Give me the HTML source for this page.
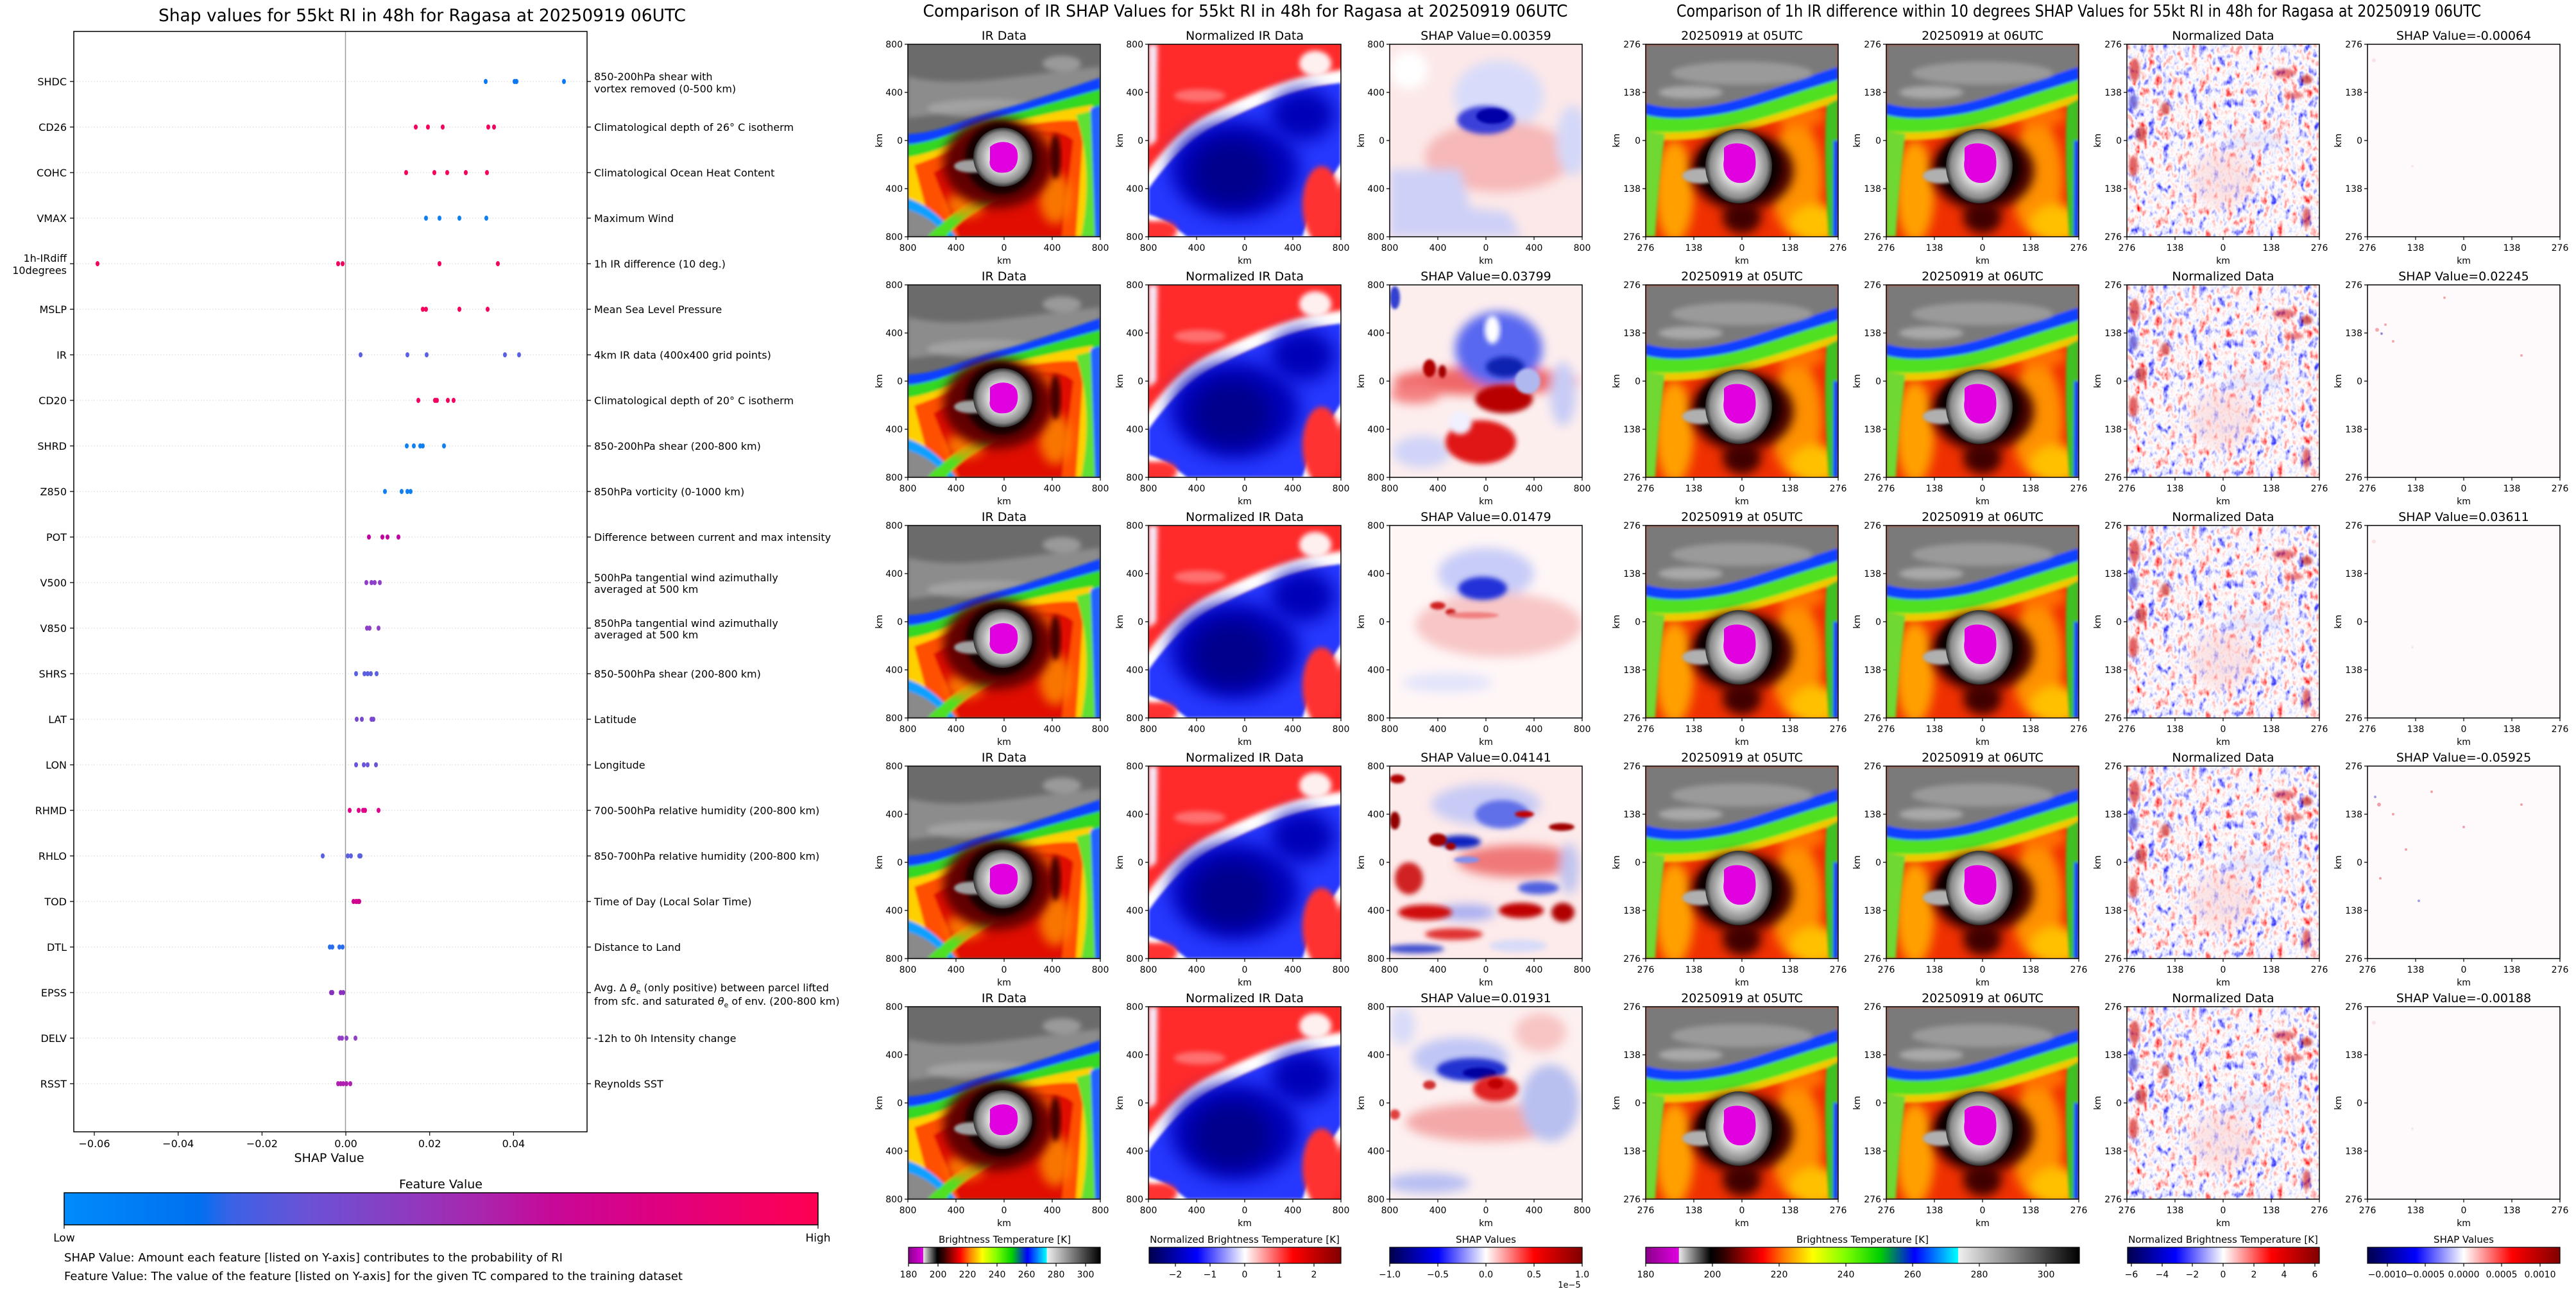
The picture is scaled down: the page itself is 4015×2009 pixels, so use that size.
<!DOCTYPE html>
<html><head><meta charset="utf-8"><style>
html,body{margin:0;padding:0;background:#fff}
svg{display:block}
text{font-family:"DejaVu Sans","Liberation Sans",sans-serif;fill:#000}
.tl{font-size:19px;text-anchor:middle}
.ty{font-size:14px;text-anchor:end}
.tx{font-size:14px;text-anchor:middle}
.yl{font-size:16px;text-anchor:end}
.rl{font-size:16px;text-anchor:start}
.fr{fill:none;stroke:#000;stroke-width:1.5}
.tk{fill:none;stroke:#000;stroke-width:1.2}
.gd{stroke:#d0d0d0;stroke-width:1;stroke-dasharray:1.5,3}
</style></head><body>
<svg width="4015" height="2009" viewBox="0 0 4015 2009" xmlns="http://www.w3.org/2000/svg" xmlns:xlink="http://www.w3.org/1999/xlink">
<defs>
<filter id="b1" x="-20%" y="-20%" width="140%" height="140%"><feGaussianBlur stdDeviation="2"/></filter>
<filter id="b2" x="-20%" y="-20%" width="140%" height="140%"><feGaussianBlur stdDeviation="4"/></filter>
<filter id="b3" x="-30%" y="-30%" width="160%" height="160%"><feGaussianBlur stdDeviation="8"/></filter>
<filter id="b4" x="-40%" y="-40%" width="180%" height="180%"><feGaussianBlur stdDeviation="14"/></filter>
<filter id="nz" x="0" y="0" width="100%" height="100%">
<feTurbulence type="fractalNoise" baseFrequency="0.09 0.06" numOctaves="3" seed="4"/>
<feColorMatrix type="matrix" values="1 0 0 0 0 1 0 0 0 0 1 0 0 0 0 0 0 0 0 1"/>
<feComponentTransfer>
<feFuncR type="table" tableValues="0 0 0.1 0.4 0.8 1 1 1 1 0.9 0.6"/>
<feFuncG type="table" tableValues="0 0 0.1 0.4 0.8 1 0.8 0.4 0.1 0 0"/>
<feFuncB type="table" tableValues="0.5 0.8 1 1 1 1 0.8 0.4 0.1 0 0"/>
<feFuncA type="table" tableValues="1 1"/>
</feComponentTransfer></filter>
<radialGradient id="eg"><stop offset="0" stop-color="#ffffff"/><stop offset="0.5" stop-color="#d8d8d8"/><stop offset="0.85" stop-color="#8a8a8a"/><stop offset="1" stop-color="#303030"/></radialGradient>
<linearGradient id="fv" x1="0" x2="1"><stop offset="0" stop-color="#008bfb"/><stop offset="0.18" stop-color="#0070f0"/><stop offset="0.22" stop-color="#3a62e6"/><stop offset="0.32" stop-color="#6a52d6"/><stop offset="0.45" stop-color="#8c3cc0"/><stop offset="0.55" stop-color="#a826ae"/><stop offset="0.65" stop-color="#c80898"/><stop offset="0.8" stop-color="#e0007e"/><stop offset="1" stop-color="#ff0052"/></linearGradient>
<linearGradient id="bt" x1="0" x2="1"><stop offset="0" stop-color="#8a008a"/><stop offset="0.076" stop-color="#e000e0"/><stop offset="0.077" stop-color="#e8e8e8"/><stop offset="0.15" stop-color="#000"/><stop offset="0.18" stop-color="#300000"/><stop offset="0.27" stop-color="#ff0000"/><stop offset="0.32" stop-color="#ff8000"/><stop offset="0.385" stop-color="#ffff00"/><stop offset="0.46" stop-color="#80ff00"/><stop offset="0.54" stop-color="#00d000"/><stop offset="0.62" stop-color="#0000ff"/><stop offset="0.72" stop-color="#00ffff"/><stop offset="0.721" stop-color="#f0f0f0"/><stop offset="1" stop-color="#000"/></linearGradient>
<linearGradient id="sw" x1="0" x2="1"><stop offset="0" stop-color="#00004c"/><stop offset="0.25" stop-color="#0000ff"/><stop offset="0.5" stop-color="#ffffff"/><stop offset="0.75" stop-color="#ff0000"/><stop offset="1" stop-color="#800000"/></linearGradient>
<path id="tk" class="tk" d="M0,0h-5M0,75h-5M0,150h-5M0,225h-5M0,300h-5M0,300v5M75,300v5M150,300v5M225,300v5M300,300v5"/>

<symbol id="ir" viewBox="0 0 300 300">
<rect width="300" height="300" fill="#6b6b6b"/>
<g filter="url(#b2)"><path d="M0,50 C80,70 150,50 300,35 L300,65 C200,90 120,100 0,115Z" fill="#8c8c8c"/><ellipse cx="120" cy="100" rx="90" ry="14" fill="#b0b0b0" opacity=".6"/><ellipse cx="240" cy="30" rx="30" ry="12" fill="#9a9a9a"/></g>
<g filter="url(#b1)">
<path d="M0,140 C50,138 90,116 140,103 C190,90 240,72 300,52 L300,300 L0,300Z" fill="#1040ff"/>
<path d="M0,156 C50,152 95,126 145,113 C195,100 240,86 300,70 L300,300 L0,300Z" fill="#30d820"/>
<path d="M0,176 C55,168 100,138 150,125 C200,112 245,102 288,95 L280,300 L0,300Z" fill="#ffd000"/>
<path d="M10,188 C70,168 110,143 160,131 C210,120 250,116 275,120 L262,300 L40,300Z" fill="#ff5000"/>
<path d="M40,200 C80,178 120,150 170,140 C215,132 245,135 258,150 L240,300 L80,300Z" fill="#e01000"/>
<path d="M0,255 C25,262 45,280 65,300 L0,300Z" fill="#8a8a8a"/>
<path d="M0,240 C30,250 55,270 75,300 L62,300 C45,280 25,265 0,258Z" fill="#10a0ff"/>
<path d="M30,300 C60,270 90,250 130,230 L140,240 C100,260 75,280 60,300Z" fill="#50e020"/>
<path d="M262,110 L300,100 L300,300 L270,300 C280,250 285,180 262,110Z" fill="#60e030"/>
<path d="M285,100 L300,95 L300,300 L292,300Z" fill="#2060ff"/>
</g>
<g filter="url(#b3)" opacity=".8"><ellipse cx="90" cy="250" rx="30" ry="20" fill="#ff9000"/><ellipse cx="230" cy="240" rx="25" ry="40" fill="#ff9000"/><ellipse cx="200" cy="150" rx="30" ry="15" fill="#ff7000"/></g>
<ellipse cx="140" cy="185" rx="85" ry="70" fill="#600000" filter="url(#b3)"/>
<ellipse cx="230" cy="175" rx="8" ry="35" fill="#400000" filter="url(#b2)"/>
<circle cx="145" cy="178" r="56" fill="#180000" filter="url(#b2)"/>
<ellipse cx="100" cy="190" rx="28" ry="10" fill="#a0a0a0" filter="url(#b1)"/>
<circle cx="148" cy="176" r="46" fill="url(#eg)"/>
<path d="M128,160 C140,148 165,150 170,165 C175,185 165,200 150,200 C135,202 125,192 128,180Z" fill="#e000e0"/>
</symbol>

<symbol id="ir2" viewBox="0 0 300 300">
<rect width="300" height="300" fill="#f03000"/>
<g filter="url(#b3)"><ellipse cx="235" cy="210" rx="40" ry="90" fill="#ff9000"/><ellipse cx="45" cy="230" rx="30" ry="80" fill="#ffa000"/><ellipse cx="265" cy="280" rx="40" ry="30" fill="#ffc000"/><ellipse cx="240" cy="110" rx="40" ry="20" fill="#ff7000"/></g>
<g filter="url(#b1)">
<path d="M0,108 C40,120 90,114 130,104 C180,91 240,70 300,52 L300,80 C240,98 180,120 130,130 C90,138 40,142 0,137Z" fill="#50e020"/>
<path d="M0,135 C40,140 90,136 130,128 C180,118 240,96 300,78 L300,90 C240,108 180,130 130,140 C90,148 40,152 0,148Z" fill="#f0e000" opacity=".85"/>
<path d="M0,135 L30,140 C25,180 20,220 15,300 L0,300Z" fill="#70d830"/>
<path d="M300,85 L300,300 L285,300 C280,220 278,150 282,95Z" fill="#40c020"/>
<path d="M293,150 L300,150 L300,300 L292,300Z" fill="#1040ff"/>
<path d="M0,90 C40,104 90,98 130,88 C180,75 240,52 300,33 L300,55 C240,72 180,95 130,106 C90,114 40,120 0,110Z" fill="#1040ff"/>
<path d="M0,0 H300 V35 C240,54 180,78 130,90 C90,100 40,104 0,92Z" fill="#7a7a7a"/>
</g>
<g filter="url(#b2)"><ellipse cx="150" cy="45" rx="110" ry="18" fill="#a8a8a8" opacity=".7"/><ellipse cx="70" cy="75" rx="50" ry="10" fill="#c8c8c8" opacity=".6"/></g>
<ellipse cx="150" cy="197" rx="80" ry="62" fill="#400000" filter="url(#b3)"/>
<ellipse cx="150" cy="270" rx="30" ry="25" fill="#400000" filter="url(#b3)"/>
<ellipse cx="145" cy="192" rx="64" ry="54" fill="#100000" filter="url(#b2)"/>
<ellipse cx="85" cy="205" rx="28" ry="12" fill="#b0b0b0" filter="url(#b1)"/>
<ellipse cx="145" cy="190" rx="52" ry="58" fill="url(#eg)"/>
<path d="M122,162 C130,150 165,152 170,170 C175,195 168,215 150,216 C130,218 118,200 122,180Z" fill="#e000e0"/>
</symbol>

<symbol id="nir" viewBox="0 0 300 300">
<rect width="300" height="300" fill="#ff2a2a"/>
<g filter="url(#b2)"><path d="M0,0 L14,0 L12,150 L0,160Z" fill="#f4f0ff"/><ellipse cx="260" cy="30" rx="25" ry="20" fill="#fff0f0"/><ellipse cx="80" cy="80" rx="40" ry="10" fill="#ff7070"/></g>
<path d="M0,215 C20,190 50,145 100,120 C150,95 200,72 260,58 L300,52 L300,190 C285,220 262,245 245,300 L55,300 C35,282 15,268 0,262Z" fill="none" stroke="#fff" stroke-width="24" filter="url(#b2)"/>
<path d="M0,225 C20,198 55,152 105,127 C155,102 200,80 262,66 L300,60 L300,185 C282,215 258,240 240,300 L60,300 C38,282 18,270 0,265Z" fill="#2838ff" filter="url(#b1)"/>
<ellipse cx="135" cy="195" rx="100" ry="75" fill="#0000b8" filter="url(#b4)"/>
<ellipse cx="130" cy="200" rx="60" ry="50" fill="#00008c" filter="url(#b4)"/>
<ellipse cx="240" cy="110" rx="50" ry="40" fill="#0000b8" filter="url(#b4)"/>
<g filter="url(#b2)"><ellipse cx="270" cy="250" rx="30" ry="60" fill="#ff3030"/><ellipse cx="20" cy="290" rx="25" ry="15" fill="#ff3030"/></g>
</symbol>

<symbol id="ndf" viewBox="0 0 300 300">
<rect width="300" height="300" fill="#fff" filter="url(#nz)"/>
<g filter="url(#b1)" opacity=".6">
<ellipse cx="12" cy="40" rx="8" ry="18" fill="#d00000"/><ellipse cx="10" cy="90" rx="7" ry="12" fill="#2020d0"/><ellipse cx="22" cy="140" rx="8" ry="12" fill="#c00000"/><ellipse cx="10" cy="190" rx="7" ry="16" fill="#d00000"/>
<ellipse cx="245" cy="45" rx="18" ry="7" fill="#e02020"/><ellipse cx="280" cy="55" rx="9" ry="7" fill="#b00000"/><ellipse cx="260" cy="80" rx="15" ry="5" fill="#e03030"/>
<ellipse cx="60" cy="100" rx="7" ry="10" fill="#c01010"/><ellipse cx="280" cy="270" rx="6" ry="16" fill="#d01010"/>
</g>
<g filter="url(#b3)" opacity=".5"><ellipse cx="150" cy="210" rx="50" ry="45" fill="#fbd0d0"/><ellipse cx="200" cy="150" rx="50" ry="12" fill="#d8daf8"/></g>
</symbol>

<symbol id="s1" viewBox="0 0 300 300">
<rect width="300" height="300" fill="#fce8e8"/>
<g filter="url(#b3)"><ellipse cx="170" cy="80" rx="70" ry="55" fill="#d8dcfa"/><ellipse cx="170" cy="175" rx="115" ry="55" fill="#f6b8b8"/><path d="M0,195 L110,195 L125,255 L185,262 L205,300 L0,300Z" fill="#cdd0f7"/><ellipse cx="285" cy="150" rx="25" ry="55" fill="#d4d8f8"/><ellipse cx="30" cy="40" rx="30" ry="30" fill="#fff"/></g>
<ellipse cx="150" cy="118" rx="45" ry="22" fill="#3a40d8" filter="url(#b2)"/>
<ellipse cx="160" cy="112" rx="25" ry="12" fill="#0000a8" filter="url(#b1)"/>
</symbol>

<symbol id="s2" viewBox="0 0 300 300">
<rect width="300" height="300" fill="#fdeeee"/>
<g filter="url(#b3)"><ellipse cx="150" cy="150" rx="145" ry="22" fill="#f06868"/><ellipse cx="170" cy="100" rx="68" ry="58" fill="#5868f0"/><ellipse cx="50" cy="260" rx="45" ry="25" fill="#d0d4f8"/><ellipse cx="270" cy="170" rx="20" ry="50" fill="#c8ccf6"/><ellipse cx="40" cy="170" rx="40" ry="15" fill="#f48080"/></g>
<ellipse cx="160" cy="70" rx="12" ry="22" fill="#fff" filter="url(#b2)"/>
<ellipse cx="180" cy="128" rx="30" ry="16" fill="#1020b0" filter="url(#b2)"/>
<ellipse cx="178" cy="178" rx="45" ry="22" fill="#b80000" filter="url(#b2)"/>
<ellipse cx="142" cy="245" rx="55" ry="34" fill="#e01818" filter="url(#b2)"/>
<circle cx="215" cy="150" r="20" fill="#b0b8f0" filter="url(#b1)"/>
<circle cx="110" cy="215" r="18" fill="#f0f0ff" filter="url(#b2)"/>
<g filter="url(#b1)"><ellipse cx="62" cy="130" rx="10" ry="14" fill="#b00000"/><ellipse cx="82" cy="135" rx="6" ry="10" fill="#a00000"/><ellipse cx="8" cy="20" rx="8" ry="18" fill="#3040d0"/></g>
</symbol>

<symbol id="s3" viewBox="0 0 300 300">
<rect width="300" height="300" fill="#fff6f6"/>
<g filter="url(#b3)"><ellipse cx="150" cy="75" rx="75" ry="40" fill="#c8ccf8"/><ellipse cx="170" cy="155" rx="130" ry="50" fill="#f8c6c6"/><ellipse cx="90" cy="245" rx="70" ry="15" fill="#e2e4fb"/></g>
<ellipse cx="145" cy="98" rx="38" ry="18" fill="#2030d8" filter="url(#b2)"/>
<g filter="url(#b1)"><ellipse cx="75" cy="125" rx="12" ry="6" fill="#d02020"/><ellipse cx="95" cy="135" rx="8" ry="5" fill="#c81818"/><ellipse cx="130" cy="140" rx="40" ry="5" fill="#f08080"/></g>
</symbol>

<symbol id="s4" viewBox="0 0 300 300">
<rect width="300" height="300" fill="#fdeaea"/>
<g filter="url(#b3)"><ellipse cx="150" cy="60" rx="85" ry="32" fill="#c8cbf5"/><ellipse cx="200" cy="148" rx="95" ry="25" fill="#f07878"/><ellipse cx="280" cy="160" rx="15" ry="40" fill="#c0c4f0"/><ellipse cx="120" cy="228" rx="45" ry="12" fill="#a6acf2"/></g>
<g filter="url(#b2)"><ellipse cx="175" cy="75" rx="42" ry="22" fill="#6070e8"/><ellipse cx="110" cy="118" rx="32" ry="10" fill="#1020c0"/><ellipse cx="30" cy="175" rx="22" ry="25" fill="#d02020"/><ellipse cx="55" cy="228" rx="42" ry="12" fill="#d01010"/><ellipse cx="100" cy="262" rx="45" ry="9" fill="#e03030"/><ellipse cx="40" cy="285" rx="45" ry="7" fill="#4050d0"/><ellipse cx="205" cy="225" rx="35" ry="12" fill="#c00000"/><ellipse cx="232" cy="190" rx="32" ry="10" fill="#5060e0"/><ellipse cx="270" cy="228" rx="18" ry="15" fill="#b00000"/><ellipse cx="200" cy="280" rx="45" ry="10" fill="#d8dcf8"/></g>
<g filter="url(#b1)"><ellipse cx="75" cy="115" rx="14" ry="10" fill="#a00000"/><ellipse cx="95" cy="125" rx="8" ry="6" fill="#a00000"/><ellipse cx="8" cy="85" rx="8" ry="14" fill="#900000"/><ellipse cx="12" cy="20" rx="12" ry="7" fill="#b00000"/><ellipse cx="268" cy="95" rx="20" ry="6" fill="#a00000"/><ellipse cx="210" cy="75" rx="15" ry="5" fill="#c00000"/><ellipse cx="120" cy="146" rx="20" ry="5" fill="#8090f0"/></g>
</symbol>

<symbol id="s5" viewBox="0 0 300 300">
<rect width="300" height="300" fill="#fdf0f0"/>
<g filter="url(#b3)"><ellipse cx="110" cy="80" rx="75" ry="32" fill="#c0c6f5"/><ellipse cx="150" cy="180" rx="125" ry="30" fill="#f4a8a8"/><ellipse cx="250" cy="150" rx="45" ry="60" fill="#b8c0f0"/><ellipse cx="60" cy="275" rx="65" ry="16" fill="#b8bff2"/><ellipse cx="235" cy="40" rx="40" ry="30" fill="#f8c4c4"/><ellipse cx="20" cy="30" rx="20" ry="30" fill="#d8dcf8"/></g>
<ellipse cx="128" cy="98" rx="55" ry="18" fill="#2030d0" filter="url(#b2)"/>
<ellipse cx="140" cy="103" rx="26" ry="8" fill="#0000a0" filter="url(#b1)"/>
<ellipse cx="165" cy="128" rx="35" ry="20" fill="#e02020" filter="url(#b2)"/>
<g filter="url(#b1)"><ellipse cx="62" cy="122" rx="10" ry="7" fill="#d03030"/><ellipse cx="8" cy="168" rx="8" ry="8" fill="#e04040"/><ellipse cx="165" cy="120" rx="12" ry="8" fill="#c00000"/></g>
</symbol>

<symbol id="z1" viewBox="0 0 300 300"><rect width="300" height="300" fill="#fefafb"/><circle cx="10" cy="25" r="3" fill="#fbe0e4"/><circle cx="70" cy="190" r="2" fill="#fbe6e8"/></symbol>
<symbol id="z2" viewBox="0 0 300 300"><rect width="300" height="300" fill="#fefafb"/><g fill="#f4a8b0"><circle cx="15" cy="70" r="3"/><circle cx="28" cy="62" r="2"/><circle cx="40" cy="88" r="2"/><circle cx="120" cy="20" r="2"/><circle cx="240" cy="110" r="2"/></g><circle cx="22" cy="76" r="2" fill="#9090e0"/></symbol>
<symbol id="z4" viewBox="0 0 300 300"><rect width="300" height="300" fill="#fefafb"/><g fill="#f0a0a8"><circle cx="18" cy="60" r="3"/><circle cx="40" cy="75" r="2"/><circle cx="100" cy="40" r="2"/><circle cx="150" cy="95" r="2"/><circle cx="60" cy="130" r="2"/><circle cx="20" cy="175" r="2"/><circle cx="240" cy="60" r="2"/></g><g fill="#a0a0e8"><circle cx="12" cy="48" r="2"/><circle cx="80" cy="210" r="2"/></g></symbol>
</defs>

<rect width="4015" height="2009" fill="#fff"/>

<!-- LEFT SUMMARY PLOT -->
<text x="658" y="33" font-size="27" text-anchor="middle" textLength="822" lengthAdjust="spacingAndGlyphs">Shap values for 55kt RI in 48h for Ragasa at 20250919 06UTC</text>
<g>
<line class="gd" x1="115" x2="915" y1="127" y2="127"/><line class="gd" x1="115" x2="915" y1="198" y2="198"/><line class="gd" x1="115" x2="915" y1="269" y2="269"/><line class="gd" x1="115" x2="915" y1="340" y2="340"/><line class="gd" x1="115" x2="915" y1="411" y2="411"/><line class="gd" x1="115" x2="915" y1="482" y2="482"/><line class="gd" x1="115" x2="915" y1="553" y2="553"/><line class="gd" x1="115" x2="915" y1="624" y2="624"/><line class="gd" x1="115" x2="915" y1="695" y2="695"/><line class="gd" x1="115" x2="915" y1="766" y2="766"/><line class="gd" x1="115" x2="915" y1="837" y2="837"/><line class="gd" x1="115" x2="915" y1="908" y2="908"/><line class="gd" x1="115" x2="915" y1="979" y2="979"/><line class="gd" x1="115" x2="915" y1="1050" y2="1050"/><line class="gd" x1="115" x2="915" y1="1121" y2="1121"/><line class="gd" x1="115" x2="915" y1="1192" y2="1192"/><line class="gd" x1="115" x2="915" y1="1263" y2="1263"/><line class="gd" x1="115" x2="915" y1="1334" y2="1334"/><line class="gd" x1="115" x2="915" y1="1405" y2="1405"/><line class="gd" x1="115" x2="915" y1="1476" y2="1476"/><line class="gd" x1="115" x2="915" y1="1547" y2="1547"/><line class="gd" x1="115" x2="915" y1="1618" y2="1618"/><line class="gd" x1="115" x2="915" y1="1689" y2="1689"/>
</g>
<line x1="538.5" x2="538.5" y1="49" y2="1764" stroke="#999" stroke-width="1.5"/>
<rect x="115" y="49" width="800" height="1715" class="fr"/>
<path class="tk" d="M115,127h-6M115,198h-6M115,269h-6M115,340h-6M115,411h-6M115,482h-6M115,553h-6M115,624h-6M115,695h-6M115,766h-6M115,837h-6M115,908h-6M115,979h-6M115,1050h-6M115,1121h-6M115,1192h-6M115,1263h-6M115,1334h-6M115,1405h-6M115,1476h-6M115,1547h-6M115,1618h-6M115,1689h-6 M915,127h6M915,198h6M915,269h6M915,340h6M915,411h6M915,482h6M915,553h6M915,624h6M915,695h6M915,766h6M915,837h6M915,908h6M915,979h6M915,1050h6M915,1121h6M915,1192h6M915,1263h6M915,1334h6M915,1405h6M915,1476h6M915,1547h6M915,1618h6M915,1689h6 M147,1764v6M277.7,1764v6M408.4,1764v6M539,1764v6M669.7,1764v6M800.4,1764v6"/>
<g>
<text class="yl" x="104" y="133">SHDC</text><text class="yl" x="104" y="204">CD26</text><text class="yl" x="104" y="275">COHC</text><text class="yl" x="104" y="346">VMAX</text><text class="yl" x="104" y="408">1h-IRdiff</text><text class="yl" x="104" y="427">10degrees</text><text class="yl" x="104" y="488">MSLP</text><text class="yl" x="104" y="559">IR</text><text class="yl" x="104" y="630">CD20</text><text class="yl" x="104" y="701">SHRD</text><text class="yl" x="104" y="772">Z850</text><text class="yl" x="104" y="843">POT</text><text class="yl" x="104" y="914">V500</text><text class="yl" x="104" y="985">V850</text><text class="yl" x="104" y="1056">SHRS</text><text class="yl" x="104" y="1127">LAT</text><text class="yl" x="104" y="1198">LON</text><text class="yl" x="104" y="1269">RHMD</text><text class="yl" x="104" y="1340">RHLO</text><text class="yl" x="104" y="1411">TOD</text><text class="yl" x="104" y="1482">DTL</text><text class="yl" x="104" y="1553">EPSS</text><text class="yl" x="104" y="1624">DELV</text><text class="yl" x="104" y="1695">RSST</text>
</g>
<g>
<text class="rl" x="926" y="125">850-200hPa shear with</text><text class="rl" x="926" y="144">vortex removed (0-500 km)</text>
<text class="rl" x="926" y="204">Climatological depth of 26° C isotherm</text>
<text class="rl" x="926" y="275">Climatological Ocean Heat Content</text>
<text class="rl" x="926" y="346">Maximum Wind</text>
<text class="rl" x="926" y="417">1h IR difference (10 deg.)</text>
<text class="rl" x="926" y="488">Mean Sea Level Pressure</text>
<text class="rl" x="926" y="559">4km IR data (400x400 grid points)</text>
<text class="rl" x="926" y="630">Climatological depth of 20° C isotherm</text>
<text class="rl" x="926" y="701">850-200hPa shear (200-800 km)</text>
<text class="rl" x="926" y="772">850hPa vorticity (0-1000 km)</text>
<text class="rl" x="926" y="843">Difference between current and max intensity</text>
<text class="rl" x="926" y="906">500hPa tangential wind azimuthally</text><text class="rl" x="926" y="924">averaged at 500 km</text>
<text class="rl" x="926" y="977">850hPa tangential wind azimuthally</text><text class="rl" x="926" y="995">averaged at 500 km</text>
<text class="rl" x="926" y="1056">850-500hPa shear (200-800 km)</text>
<text class="rl" x="926" y="1127">Latitude</text>
<text class="rl" x="926" y="1198">Longitude</text>
<text class="rl" x="926" y="1269">700-500hPa relative humidity (200-800 km)</text>
<text class="rl" x="926" y="1340">850-700hPa relative humidity (200-800 km)</text>
<text class="rl" x="926" y="1411">Time of Day (Local Solar Time)</text>
<text class="rl" x="926" y="1482">Distance to Land</text>
<text class="rl" x="926" y="1545">Avg. Δ <tspan font-style="italic">θ</tspan><tspan font-size="11" dy="4">e</tspan><tspan dy="-4"> (only positive) between parcel lifted</tspan></text>
<text class="rl" x="926" y="1566">from sfc. and saturated <tspan font-style="italic">θ</tspan><tspan font-size="11" dy="4">e</tspan><tspan dy="-4"> of env. (200-800 km)</tspan></text>
<text class="rl" x="926" y="1624">-12h to 0h Intensity change</text>
<text class="rl" x="926" y="1695">Reynolds SST</text>
</g>
<!-- dots -->
<g>
<g fill="#0a78f4"><ellipse cx="757" cy="127" rx="3" ry="4"/><ellipse cx="802" cy="127" rx="3" ry="4"/><ellipse cx="805" cy="127" rx="3" ry="4"/><ellipse cx="879" cy="127" rx="3" ry="4"/></g>
<g fill="#f5005e"><ellipse cx="648" cy="198" rx="3" ry="4"/><ellipse cx="667" cy="198" rx="3" ry="4"/><ellipse cx="690" cy="198" rx="3" ry="4"/><ellipse cx="761" cy="198" rx="3" ry="4"/><ellipse cx="770" cy="198" rx="3" ry="4"/>
<ellipse cx="633" cy="269" rx="3" ry="4"/><ellipse cx="677" cy="269" rx="3" ry="4"/><ellipse cx="697" cy="269" rx="3" ry="4"/><ellipse cx="726" cy="269" rx="3" ry="4"/><ellipse cx="759" cy="269" rx="3" ry="4"/>
<ellipse cx="152" cy="411" rx="3" ry="4"/><ellipse cx="527" cy="411" rx="3" ry="4"/><ellipse cx="534" cy="411" rx="3" ry="4"/><ellipse cx="685" cy="411" rx="3" ry="4"/><ellipse cx="776" cy="411" rx="3" ry="4"/>
<ellipse cx="659" cy="482" rx="3" ry="4"/><ellipse cx="664" cy="482" rx="3" ry="4"/><ellipse cx="716" cy="482" rx="3" ry="4"/><ellipse cx="760" cy="482" rx="3" ry="4"/>
<ellipse cx="652" cy="624" rx="3" ry="4"/><ellipse cx="678" cy="624" rx="3" ry="4"/><ellipse cx="681" cy="624" rx="3" ry="4"/><ellipse cx="698" cy="624" rx="3" ry="4"/><ellipse cx="707" cy="624" rx="3" ry="4"/></g>
<g fill="#1080f0"><ellipse cx="664" cy="340" rx="3" ry="4"/><ellipse cx="685" cy="340" rx="3" ry="4"/><ellipse cx="716" cy="340" rx="3" ry="4"/><ellipse cx="758" cy="340" rx="3" ry="4"/>
<ellipse cx="634" cy="695" rx="3" ry="4"/><ellipse cx="645" cy="695" rx="3" ry="4"/><ellipse cx="655" cy="695" rx="3" ry="4"/><ellipse cx="659" cy="695" rx="3" ry="4"/><ellipse cx="692" cy="695" rx="3" ry="4"/>
<ellipse cx="600" cy="766" rx="3" ry="4"/><ellipse cx="626" cy="766" rx="3" ry="4"/><ellipse cx="635" cy="766" rx="3" ry="4"/><ellipse cx="640" cy="766" rx="3" ry="4"/></g>
<g fill="#5a60e0"><ellipse cx="562" cy="553" rx="3" ry="4"/><ellipse cx="635" cy="553" rx="3" ry="4"/><ellipse cx="665" cy="553" rx="3" ry="4"/><ellipse cx="787" cy="553" rx="3" ry="4"/><ellipse cx="809" cy="553" rx="3" ry="4"/>
<ellipse cx="555" cy="1050" rx="3" ry="4"/><ellipse cx="568" cy="1050" rx="3" ry="4"/><ellipse cx="573" cy="1050" rx="3" ry="4"/><ellipse cx="578" cy="1050" rx="3" ry="4"/><ellipse cx="587" cy="1050" rx="3" ry="4"/>
<ellipse cx="503" cy="1334" rx="3" ry="4"/><ellipse cx="542" cy="1334" rx="3" ry="4"/><ellipse cx="547" cy="1334" rx="3" ry="4"/><ellipse cx="560" cy="1334" rx="3" ry="4"/><ellipse cx="562" cy="1334" rx="3" ry="4"/></g>
<g fill="#c000a0"><ellipse cx="575" cy="837" rx="3" ry="4"/><ellipse cx="596" cy="837" rx="3" ry="4"/><ellipse cx="604" cy="837" rx="3" ry="4"/><ellipse cx="621" cy="837" rx="3" ry="4"/></g>
<g fill="#9040c8"><ellipse cx="571" cy="908" rx="3" ry="4"/><ellipse cx="579" cy="908" rx="3" ry="4"/><ellipse cx="584" cy="908" rx="3" ry="4"/><ellipse cx="592" cy="908" rx="3" ry="4"/>
<ellipse cx="572" cy="979" rx="3" ry="4"/><ellipse cx="576" cy="979" rx="3" ry="4"/><ellipse cx="590" cy="979" rx="3" ry="4"/>
<ellipse cx="529" cy="1618" rx="3" ry="4"/><ellipse cx="533" cy="1618" rx="3" ry="4"/><ellipse cx="540" cy="1618" rx="3" ry="4"/><ellipse cx="554" cy="1618" rx="3" ry="4"/></g>
<g fill="#7a48d0"><ellipse cx="556" cy="1121" rx="3" ry="4"/><ellipse cx="564" cy="1121" rx="3" ry="4"/><ellipse cx="579" cy="1121" rx="3" ry="4"/><ellipse cx="582" cy="1121" rx="3" ry="4"/></g>
<g fill="#6a55d8"><ellipse cx="555" cy="1192" rx="3" ry="4"/><ellipse cx="567" cy="1192" rx="3" ry="4"/><ellipse cx="573" cy="1192" rx="3" ry="4"/><ellipse cx="586" cy="1192" rx="3" ry="4"/></g>
<g fill="#e0008a"><ellipse cx="545" cy="1263" rx="3" ry="4"/><ellipse cx="559" cy="1263" rx="3" ry="4"/><ellipse cx="566" cy="1263" rx="3" ry="4"/><ellipse cx="569" cy="1263" rx="3" ry="4"/><ellipse cx="590" cy="1263" rx="3" ry="4"/></g>
<g fill="#d00090"><ellipse cx="551" cy="1405" rx="3" ry="4"/><ellipse cx="555" cy="1405" rx="3" ry="4"/><ellipse cx="558" cy="1405" rx="3" ry="4"/><ellipse cx="560" cy="1405" rx="3" ry="4"/></g>
<g fill="#2a6ef0"><ellipse cx="514" cy="1476" rx="3" ry="4"/><ellipse cx="518" cy="1476" rx="3" ry="4"/><ellipse cx="529" cy="1476" rx="3" ry="4"/><ellipse cx="534" cy="1476" rx="3" ry="4"/></g>
<g fill="#8a30c0"><ellipse cx="516" cy="1547" rx="3" ry="4"/><ellipse cx="518" cy="1547" rx="3" ry="4"/><ellipse cx="531" cy="1547" rx="3" ry="4"/><ellipse cx="535" cy="1547" rx="3" ry="4"/></g>
<g fill="#b020b0"><ellipse cx="527" cy="1689" rx="3" ry="4"/><ellipse cx="531" cy="1689" rx="3" ry="4"/><ellipse cx="535" cy="1689" rx="3" ry="4"/><ellipse cx="540" cy="1689" rx="3" ry="4"/><ellipse cx="546" cy="1689" rx="3" ry="4"/></g>
</g>
<g font-size="16" text-anchor="middle">
<text x="147" y="1788">−0.06</text><text x="277.7" y="1788">−0.04</text><text x="408.4" y="1788">−0.02</text><text x="539" y="1788">0.00</text><text x="669.7" y="1788">0.02</text><text x="800.4" y="1788">0.04</text>
</g>
<text x="513" y="1811" font-size="19" text-anchor="middle">SHAP Value</text>
<text x="687" y="1852" font-size="19" text-anchor="middle">Feature Value</text>
<rect x="100" y="1859" width="1175" height="50" fill="url(#fv)" stroke="#000" stroke-width="1.5"/>
<path class="tk" d="M100,1909v6M1275,1909v6"/>
<text x="100" y="1935" font-size="17" text-anchor="middle">Low</text>
<text x="1275" y="1935" font-size="17" text-anchor="middle">High</text>
<text x="100" y="1966" font-size="18" textLength="777" lengthAdjust="spacingAndGlyphs">SHAP Value: Amount each feature [listed on Y-axis] contributes to the probability of RI</text>
<text x="100" y="1995" font-size="18" textLength="964" lengthAdjust="spacingAndGlyphs">Feature Value: The value of the feature [listed on Y-axis] for the given TC compared to the training dataset</text>

<!-- MIDDLE GROUP -->
<text x="1941" y="26" font-size="26" text-anchor="middle" textLength="1005" lengthAdjust="spacingAndGlyphs">Comparison of IR SHAP Values for 55kt RI in 48h for Ragasa at 20250919 06UTC</text>

<g transform="translate(1415,69)"><use href="#ir" width="300" height="300"/><rect class="fr" width="300" height="300"/><use href="#tk"/><text class="tl" x="150" y="-7">IR Data</text><text class="ty" x="-8" y="5">800</text><text class="ty" x="-8" y="80">400</text><text class="ty" x="-8" y="155">0</text><text class="ty" x="-8" y="230">400</text><text class="ty" x="-8" y="305">800</text><text class="tx" x="0" y="322">800</text><text class="tx" x="75" y="322">400</text><text class="tx" x="150" y="322">0</text><text class="tx" x="225" y="322">400</text><text class="tx" x="300" y="322">800</text><text class="tx" x="150" y="342">km</text><text class="tx" transform="translate(-40,150) rotate(-90)">km</text></g>
<g transform="translate(1790,69)"><use href="#nir" width="300" height="300"/><rect class="fr" width="300" height="300"/><use href="#tk"/><text class="tl" x="150" y="-7">Normalized IR Data</text><text class="ty" x="-8" y="5">800</text><text class="ty" x="-8" y="80">400</text><text class="ty" x="-8" y="155">0</text><text class="ty" x="-8" y="230">400</text><text class="ty" x="-8" y="305">800</text><text class="tx" x="0" y="322">800</text><text class="tx" x="75" y="322">400</text><text class="tx" x="150" y="322">0</text><text class="tx" x="225" y="322">400</text><text class="tx" x="300" y="322">800</text><text class="tx" x="150" y="342">km</text><text class="tx" transform="translate(-40,150) rotate(-90)">km</text></g>
<g transform="translate(2166,69)"><use href="#s1" width="300" height="300"/><rect class="fr" width="300" height="300"/><use href="#tk"/><text class="tl" x="150" y="-7">SHAP Value=0.00359</text><text class="ty" x="-8" y="5">800</text><text class="ty" x="-8" y="80">400</text><text class="ty" x="-8" y="155">0</text><text class="ty" x="-8" y="230">400</text><text class="ty" x="-8" y="305">800</text><text class="tx" x="0" y="322">800</text><text class="tx" x="75" y="322">400</text><text class="tx" x="150" y="322">0</text><text class="tx" x="225" y="322">400</text><text class="tx" x="300" y="322">800</text><text class="tx" x="150" y="342">km</text><text class="tx" transform="translate(-40,150) rotate(-90)">km</text></g>

<g transform="translate(1415,444)"><use href="#ir" width="300" height="300"/><rect class="fr" width="300" height="300"/><use href="#tk"/><text class="tl" x="150" y="-7">IR Data</text><text class="ty" x="-8" y="5">800</text><text class="ty" x="-8" y="80">400</text><text class="ty" x="-8" y="155">0</text><text class="ty" x="-8" y="230">400</text><text class="ty" x="-8" y="305">800</text><text class="tx" x="0" y="322">800</text><text class="tx" x="75" y="322">400</text><text class="tx" x="150" y="322">0</text><text class="tx" x="225" y="322">400</text><text class="tx" x="300" y="322">800</text><text class="tx" x="150" y="342">km</text><text class="tx" transform="translate(-40,150) rotate(-90)">km</text></g>
<g transform="translate(1790,444)"><use href="#nir" width="300" height="300"/><rect class="fr" width="300" height="300"/><use href="#tk"/><text class="tl" x="150" y="-7">Normalized IR Data</text><text class="ty" x="-8" y="5">800</text><text class="ty" x="-8" y="80">400</text><text class="ty" x="-8" y="155">0</text><text class="ty" x="-8" y="230">400</text><text class="ty" x="-8" y="305">800</text><text class="tx" x="0" y="322">800</text><text class="tx" x="75" y="322">400</text><text class="tx" x="150" y="322">0</text><text class="tx" x="225" y="322">400</text><text class="tx" x="300" y="322">800</text><text class="tx" x="150" y="342">km</text><text class="tx" transform="translate(-40,150) rotate(-90)">km</text></g>
<g transform="translate(2166,444)"><use href="#s2" width="300" height="300"/><rect class="fr" width="300" height="300"/><use href="#tk"/><text class="tl" x="150" y="-7">SHAP Value=0.03799</text><text class="ty" x="-8" y="5">800</text><text class="ty" x="-8" y="80">400</text><text class="ty" x="-8" y="155">0</text><text class="ty" x="-8" y="230">400</text><text class="ty" x="-8" y="305">800</text><text class="tx" x="0" y="322">800</text><text class="tx" x="75" y="322">400</text><text class="tx" x="150" y="322">0</text><text class="tx" x="225" y="322">400</text><text class="tx" x="300" y="322">800</text><text class="tx" x="150" y="342">km</text><text class="tx" transform="translate(-40,150) rotate(-90)">km</text></g>

<g transform="translate(1415,819)"><use href="#ir" width="300" height="300"/><rect class="fr" width="300" height="300"/><use href="#tk"/><text class="tl" x="150" y="-7">IR Data</text><text class="ty" x="-8" y="5">800</text><text class="ty" x="-8" y="80">400</text><text class="ty" x="-8" y="155">0</text><text class="ty" x="-8" y="230">400</text><text class="ty" x="-8" y="305">800</text><text class="tx" x="0" y="322">800</text><text class="tx" x="75" y="322">400</text><text class="tx" x="150" y="322">0</text><text class="tx" x="225" y="322">400</text><text class="tx" x="300" y="322">800</text><text class="tx" x="150" y="342">km</text><text class="tx" transform="translate(-40,150) rotate(-90)">km</text></g>
<g transform="translate(1790,819)"><use href="#nir" width="300" height="300"/><rect class="fr" width="300" height="300"/><use href="#tk"/><text class="tl" x="150" y="-7">Normalized IR Data</text><text class="ty" x="-8" y="5">800</text><text class="ty" x="-8" y="80">400</text><text class="ty" x="-8" y="155">0</text><text class="ty" x="-8" y="230">400</text><text class="ty" x="-8" y="305">800</text><text class="tx" x="0" y="322">800</text><text class="tx" x="75" y="322">400</text><text class="tx" x="150" y="322">0</text><text class="tx" x="225" y="322">400</text><text class="tx" x="300" y="322">800</text><text class="tx" x="150" y="342">km</text><text class="tx" transform="translate(-40,150) rotate(-90)">km</text></g>
<g transform="translate(2166,819)"><use href="#s3" width="300" height="300"/><rect class="fr" width="300" height="300"/><use href="#tk"/><text class="tl" x="150" y="-7">SHAP Value=0.01479</text><text class="ty" x="-8" y="5">800</text><text class="ty" x="-8" y="80">400</text><text class="ty" x="-8" y="155">0</text><text class="ty" x="-8" y="230">400</text><text class="ty" x="-8" y="305">800</text><text class="tx" x="0" y="322">800</text><text class="tx" x="75" y="322">400</text><text class="tx" x="150" y="322">0</text><text class="tx" x="225" y="322">400</text><text class="tx" x="300" y="322">800</text><text class="tx" x="150" y="342">km</text><text class="tx" transform="translate(-40,150) rotate(-90)">km</text></g>

<g transform="translate(1415,1194)"><use href="#ir" width="300" height="300"/><rect class="fr" width="300" height="300"/><use href="#tk"/><text class="tl" x="150" y="-7">IR Data</text><text class="ty" x="-8" y="5">800</text><text class="ty" x="-8" y="80">400</text><text class="ty" x="-8" y="155">0</text><text class="ty" x="-8" y="230">400</text><text class="ty" x="-8" y="305">800</text><text class="tx" x="0" y="322">800</text><text class="tx" x="75" y="322">400</text><text class="tx" x="150" y="322">0</text><text class="tx" x="225" y="322">400</text><text class="tx" x="300" y="322">800</text><text class="tx" x="150" y="342">km</text><text class="tx" transform="translate(-40,150) rotate(-90)">km</text></g>
<g transform="translate(1790,1194)"><use href="#nir" width="300" height="300"/><rect class="fr" width="300" height="300"/><use href="#tk"/><text class="tl" x="150" y="-7">Normalized IR Data</text><text class="ty" x="-8" y="5">800</text><text class="ty" x="-8" y="80">400</text><text class="ty" x="-8" y="155">0</text><text class="ty" x="-8" y="230">400</text><text class="ty" x="-8" y="305">800</text><text class="tx" x="0" y="322">800</text><text class="tx" x="75" y="322">400</text><text class="tx" x="150" y="322">0</text><text class="tx" x="225" y="322">400</text><text class="tx" x="300" y="322">800</text><text class="tx" x="150" y="342">km</text><text class="tx" transform="translate(-40,150) rotate(-90)">km</text></g>
<g transform="translate(2166,1194)"><use href="#s4" width="300" height="300"/><rect class="fr" width="300" height="300"/><use href="#tk"/><text class="tl" x="150" y="-7">SHAP Value=0.04141</text><text class="ty" x="-8" y="5">800</text><text class="ty" x="-8" y="80">400</text><text class="ty" x="-8" y="155">0</text><text class="ty" x="-8" y="230">400</text><text class="ty" x="-8" y="305">800</text><text class="tx" x="0" y="322">800</text><text class="tx" x="75" y="322">400</text><text class="tx" x="150" y="322">0</text><text class="tx" x="225" y="322">400</text><text class="tx" x="300" y="322">800</text><text class="tx" x="150" y="342">km</text><text class="tx" transform="translate(-40,150) rotate(-90)">km</text></g>

<g transform="translate(1415,1569)"><use href="#ir" width="300" height="300"/><rect class="fr" width="300" height="300"/><use href="#tk"/><text class="tl" x="150" y="-7">IR Data</text><text class="ty" x="-8" y="5">800</text><text class="ty" x="-8" y="80">400</text><text class="ty" x="-8" y="155">0</text><text class="ty" x="-8" y="230">400</text><text class="ty" x="-8" y="305">800</text><text class="tx" x="0" y="322">800</text><text class="tx" x="75" y="322">400</text><text class="tx" x="150" y="322">0</text><text class="tx" x="225" y="322">400</text><text class="tx" x="300" y="322">800</text><text class="tx" x="150" y="342">km</text><text class="tx" transform="translate(-40,150) rotate(-90)">km</text></g>
<g transform="translate(1790,1569)"><use href="#nir" width="300" height="300"/><rect class="fr" width="300" height="300"/><use href="#tk"/><text class="tl" x="150" y="-7">Normalized IR Data</text><text class="ty" x="-8" y="5">800</text><text class="ty" x="-8" y="80">400</text><text class="ty" x="-8" y="155">0</text><text class="ty" x="-8" y="230">400</text><text class="ty" x="-8" y="305">800</text><text class="tx" x="0" y="322">800</text><text class="tx" x="75" y="322">400</text><text class="tx" x="150" y="322">0</text><text class="tx" x="225" y="322">400</text><text class="tx" x="300" y="322">800</text><text class="tx" x="150" y="342">km</text><text class="tx" transform="translate(-40,150) rotate(-90)">km</text></g>
<g transform="translate(2166,1569)"><use href="#s5" width="300" height="300"/><rect class="fr" width="300" height="300"/><use href="#tk"/><text class="tl" x="150" y="-7">SHAP Value=0.01931</text><text class="ty" x="-8" y="5">800</text><text class="ty" x="-8" y="80">400</text><text class="ty" x="-8" y="155">0</text><text class="ty" x="-8" y="230">400</text><text class="ty" x="-8" y="305">800</text><text class="tx" x="0" y="322">800</text><text class="tx" x="75" y="322">400</text><text class="tx" x="150" y="322">0</text><text class="tx" x="225" y="322">400</text><text class="tx" x="300" y="322">800</text><text class="tx" x="150" y="342">km</text><text class="tx" transform="translate(-40,150) rotate(-90)">km</text></g>

<!-- middle colorbars -->
<text x="1566" y="1937" font-size="15" text-anchor="middle">Brightness Temperature [K]</text>
<rect x="1416" y="1944" width="299" height="25" fill="url(#bt)" stroke="#000" stroke-width="1.2"/>
<path class="tk" d="M1416,1969v5M1462,1969v5M1508,1969v5M1554,1969v5M1600,1969v5M1646,1969v5M1692,1969v5"/>
<text class="tx" x="1416" y="1991">180</text><text class="tx" x="1462" y="1991">200</text><text class="tx" x="1508" y="1991">220</text><text class="tx" x="1554" y="1991">240</text><text class="tx" x="1600" y="1991">260</text><text class="tx" x="1646" y="1991">280</text><text class="tx" x="1692" y="1991">300</text>
<text x="1940" y="1937" font-size="15" text-anchor="middle">Normalized Brightness Temperature [K]</text>
<rect x="1791" y="1944" width="299" height="25" fill="url(#sw)" stroke="#000" stroke-width="1.2"/>
<path class="tk" d="M1832,1969v5M1886,1969v5M1940,1969v5M1994,1969v5M2048,1969v5"/>
<text class="tx" x="1832" y="1991">−2</text><text class="tx" x="1886" y="1991">−1</text><text class="tx" x="1940" y="1991">0</text><text class="tx" x="1994" y="1991">1</text><text class="tx" x="2048" y="1991">2</text>
<text x="2316" y="1937" font-size="15" text-anchor="middle">SHAP Values</text>
<rect x="2166" y="1944" width="300" height="25" fill="url(#sw)" stroke="#000" stroke-width="1.2"/>
<path class="tk" d="M2166,1969v5M2241,1969v5M2316,1969v5M2391,1969v5M2466,1969v5"/>
<text class="tx" x="2166" y="1991">−1.0</text><text class="tx" x="2241" y="1991">−0.5</text><text class="tx" x="2316" y="1991">0.0</text><text class="tx" x="2391" y="1991">0.5</text><text class="tx" x="2466" y="1991">1.0</text>
<text x="2446" y="2007" font-size="13" text-anchor="middle">1e−5</text>

<!-- RIGHT GROUP -->
<text x="3240" y="26" font-size="26" text-anchor="middle" textLength="1254" lengthAdjust="spacingAndGlyphs">Comparison of 1h IR difference within 10 degrees SHAP Values for 55kt RI in 48h for Ragasa at 20250919 06UTC</text>

<g transform="translate(2565,69)"><use href="#ir2" width="300" height="300"/><rect class="fr" width="300" height="300"/><use href="#tk"/><text class="tl" x="150" y="-7">20250919 at 05UTC</text><text class="ty" x="-8" y="5">276</text><text class="ty" x="-8" y="80">138</text><text class="ty" x="-8" y="155">0</text><text class="ty" x="-8" y="230">138</text><text class="ty" x="-8" y="305">276</text><text class="tx" x="0" y="322">276</text><text class="tx" x="75" y="322">138</text><text class="tx" x="150" y="322">0</text><text class="tx" x="225" y="322">138</text><text class="tx" x="300" y="322">276</text><text class="tx" x="150" y="342">km</text><text class="tx" transform="translate(-41,150) rotate(-90)">km</text></g>
<g transform="translate(2940,69)"><use href="#ir2" width="300" height="300"/><rect class="fr" width="300" height="300"/><use href="#tk"/><text class="tl" x="150" y="-7">20250919 at 06UTC</text><text class="ty" x="-8" y="5">276</text><text class="ty" x="-8" y="80">138</text><text class="ty" x="-8" y="155">0</text><text class="ty" x="-8" y="230">138</text><text class="ty" x="-8" y="305">276</text><text class="tx" x="0" y="322">276</text><text class="tx" x="75" y="322">138</text><text class="tx" x="150" y="322">0</text><text class="tx" x="225" y="322">138</text><text class="tx" x="300" y="322">276</text><text class="tx" x="150" y="342">km</text><text class="tx" transform="translate(-41,150) rotate(-90)">km</text></g>
<g transform="translate(3315,69)"><use href="#ndf" width="300" height="300"/><rect class="fr" width="300" height="300"/><use href="#tk"/><text class="tl" x="150" y="-7">Normalized Data</text><text class="ty" x="-8" y="5">276</text><text class="ty" x="-8" y="80">138</text><text class="ty" x="-8" y="155">0</text><text class="ty" x="-8" y="230">138</text><text class="ty" x="-8" y="305">276</text><text class="tx" x="0" y="322">276</text><text class="tx" x="75" y="322">138</text><text class="tx" x="150" y="322">0</text><text class="tx" x="225" y="322">138</text><text class="tx" x="300" y="322">276</text><text class="tx" x="150" y="342">km</text><text class="tx" transform="translate(-41,150) rotate(-90)">km</text></g>
<g transform="translate(3690,69)"><use href="#z1" width="300" height="300"/><rect class="fr" width="300" height="300"/><use href="#tk"/><text class="tl" x="150" y="-7">SHAP Value=-0.00064</text><text class="ty" x="-8" y="5">276</text><text class="ty" x="-8" y="80">138</text><text class="ty" x="-8" y="155">0</text><text class="ty" x="-8" y="230">138</text><text class="ty" x="-8" y="305">276</text><text class="tx" x="0" y="322">276</text><text class="tx" x="75" y="322">138</text><text class="tx" x="150" y="322">0</text><text class="tx" x="225" y="322">138</text><text class="tx" x="300" y="322">276</text><text class="tx" x="150" y="342">km</text><text class="tx" transform="translate(-41,150) rotate(-90)">km</text></g>

<g transform="translate(2565,444)"><use href="#ir2" width="300" height="300"/><rect class="fr" width="300" height="300"/><use href="#tk"/><text class="tl" x="150" y="-7">20250919 at 05UTC</text><text class="ty" x="-8" y="5">276</text><text class="ty" x="-8" y="80">138</text><text class="ty" x="-8" y="155">0</text><text class="ty" x="-8" y="230">138</text><text class="ty" x="-8" y="305">276</text><text class="tx" x="0" y="322">276</text><text class="tx" x="75" y="322">138</text><text class="tx" x="150" y="322">0</text><text class="tx" x="225" y="322">138</text><text class="tx" x="300" y="322">276</text><text class="tx" x="150" y="342">km</text><text class="tx" transform="translate(-41,150) rotate(-90)">km</text></g>
<g transform="translate(2940,444)"><use href="#ir2" width="300" height="300"/><rect class="fr" width="300" height="300"/><use href="#tk"/><text class="tl" x="150" y="-7">20250919 at 06UTC</text><text class="ty" x="-8" y="5">276</text><text class="ty" x="-8" y="80">138</text><text class="ty" x="-8" y="155">0</text><text class="ty" x="-8" y="230">138</text><text class="ty" x="-8" y="305">276</text><text class="tx" x="0" y="322">276</text><text class="tx" x="75" y="322">138</text><text class="tx" x="150" y="322">0</text><text class="tx" x="225" y="322">138</text><text class="tx" x="300" y="322">276</text><text class="tx" x="150" y="342">km</text><text class="tx" transform="translate(-41,150) rotate(-90)">km</text></g>
<g transform="translate(3315,444)"><use href="#ndf" width="300" height="300"/><rect class="fr" width="300" height="300"/><use href="#tk"/><text class="tl" x="150" y="-7">Normalized Data</text><text class="ty" x="-8" y="5">276</text><text class="ty" x="-8" y="80">138</text><text class="ty" x="-8" y="155">0</text><text class="ty" x="-8" y="230">138</text><text class="ty" x="-8" y="305">276</text><text class="tx" x="0" y="322">276</text><text class="tx" x="75" y="322">138</text><text class="tx" x="150" y="322">0</text><text class="tx" x="225" y="322">138</text><text class="tx" x="300" y="322">276</text><text class="tx" x="150" y="342">km</text><text class="tx" transform="translate(-41,150) rotate(-90)">km</text></g>
<g transform="translate(3690,444)"><use href="#z2" width="300" height="300"/><rect class="fr" width="300" height="300"/><use href="#tk"/><text class="tl" x="150" y="-7">SHAP Value=0.02245</text><text class="ty" x="-8" y="5">276</text><text class="ty" x="-8" y="80">138</text><text class="ty" x="-8" y="155">0</text><text class="ty" x="-8" y="230">138</text><text class="ty" x="-8" y="305">276</text><text class="tx" x="0" y="322">276</text><text class="tx" x="75" y="322">138</text><text class="tx" x="150" y="322">0</text><text class="tx" x="225" y="322">138</text><text class="tx" x="300" y="322">276</text><text class="tx" x="150" y="342">km</text><text class="tx" transform="translate(-41,150) rotate(-90)">km</text></g>

<g transform="translate(2565,819)"><use href="#ir2" width="300" height="300"/><rect class="fr" width="300" height="300"/><use href="#tk"/><text class="tl" x="150" y="-7">20250919 at 05UTC</text><text class="ty" x="-8" y="5">276</text><text class="ty" x="-8" y="80">138</text><text class="ty" x="-8" y="155">0</text><text class="ty" x="-8" y="230">138</text><text class="ty" x="-8" y="305">276</text><text class="tx" x="0" y="322">276</text><text class="tx" x="75" y="322">138</text><text class="tx" x="150" y="322">0</text><text class="tx" x="225" y="322">138</text><text class="tx" x="300" y="322">276</text><text class="tx" x="150" y="342">km</text><text class="tx" transform="translate(-41,150) rotate(-90)">km</text></g>
<g transform="translate(2940,819)"><use href="#ir2" width="300" height="300"/><rect class="fr" width="300" height="300"/><use href="#tk"/><text class="tl" x="150" y="-7">20250919 at 06UTC</text><text class="ty" x="-8" y="5">276</text><text class="ty" x="-8" y="80">138</text><text class="ty" x="-8" y="155">0</text><text class="ty" x="-8" y="230">138</text><text class="ty" x="-8" y="305">276</text><text class="tx" x="0" y="322">276</text><text class="tx" x="75" y="322">138</text><text class="tx" x="150" y="322">0</text><text class="tx" x="225" y="322">138</text><text class="tx" x="300" y="322">276</text><text class="tx" x="150" y="342">km</text><text class="tx" transform="translate(-41,150) rotate(-90)">km</text></g>
<g transform="translate(3315,819)"><use href="#ndf" width="300" height="300"/><rect class="fr" width="300" height="300"/><use href="#tk"/><text class="tl" x="150" y="-7">Normalized Data</text><text class="ty" x="-8" y="5">276</text><text class="ty" x="-8" y="80">138</text><text class="ty" x="-8" y="155">0</text><text class="ty" x="-8" y="230">138</text><text class="ty" x="-8" y="305">276</text><text class="tx" x="0" y="322">276</text><text class="tx" x="75" y="322">138</text><text class="tx" x="150" y="322">0</text><text class="tx" x="225" y="322">138</text><text class="tx" x="300" y="322">276</text><text class="tx" x="150" y="342">km</text><text class="tx" transform="translate(-41,150) rotate(-90)">km</text></g>
<g transform="translate(3690,819)"><use href="#z1" width="300" height="300"/><rect class="fr" width="300" height="300"/><use href="#tk"/><text class="tl" x="150" y="-7">SHAP Value=0.03611</text><text class="ty" x="-8" y="5">276</text><text class="ty" x="-8" y="80">138</text><text class="ty" x="-8" y="155">0</text><text class="ty" x="-8" y="230">138</text><text class="ty" x="-8" y="305">276</text><text class="tx" x="0" y="322">276</text><text class="tx" x="75" y="322">138</text><text class="tx" x="150" y="322">0</text><text class="tx" x="225" y="322">138</text><text class="tx" x="300" y="322">276</text><text class="tx" x="150" y="342">km</text><text class="tx" transform="translate(-41,150) rotate(-90)">km</text></g>

<g transform="translate(2565,1194)"><use href="#ir2" width="300" height="300"/><rect class="fr" width="300" height="300"/><use href="#tk"/><text class="tl" x="150" y="-7">20250919 at 05UTC</text><text class="ty" x="-8" y="5">276</text><text class="ty" x="-8" y="80">138</text><text class="ty" x="-8" y="155">0</text><text class="ty" x="-8" y="230">138</text><text class="ty" x="-8" y="305">276</text><text class="tx" x="0" y="322">276</text><text class="tx" x="75" y="322">138</text><text class="tx" x="150" y="322">0</text><text class="tx" x="225" y="322">138</text><text class="tx" x="300" y="322">276</text><text class="tx" x="150" y="342">km</text><text class="tx" transform="translate(-41,150) rotate(-90)">km</text></g>
<g transform="translate(2940,1194)"><use href="#ir2" width="300" height="300"/><rect class="fr" width="300" height="300"/><use href="#tk"/><text class="tl" x="150" y="-7">20250919 at 06UTC</text><text class="ty" x="-8" y="5">276</text><text class="ty" x="-8" y="80">138</text><text class="ty" x="-8" y="155">0</text><text class="ty" x="-8" y="230">138</text><text class="ty" x="-8" y="305">276</text><text class="tx" x="0" y="322">276</text><text class="tx" x="75" y="322">138</text><text class="tx" x="150" y="322">0</text><text class="tx" x="225" y="322">138</text><text class="tx" x="300" y="322">276</text><text class="tx" x="150" y="342">km</text><text class="tx" transform="translate(-41,150) rotate(-90)">km</text></g>
<g transform="translate(3315,1194)"><use href="#ndf" width="300" height="300"/><rect class="fr" width="300" height="300"/><use href="#tk"/><text class="tl" x="150" y="-7">Normalized Data</text><text class="ty" x="-8" y="5">276</text><text class="ty" x="-8" y="80">138</text><text class="ty" x="-8" y="155">0</text><text class="ty" x="-8" y="230">138</text><text class="ty" x="-8" y="305">276</text><text class="tx" x="0" y="322">276</text><text class="tx" x="75" y="322">138</text><text class="tx" x="150" y="322">0</text><text class="tx" x="225" y="322">138</text><text class="tx" x="300" y="322">276</text><text class="tx" x="150" y="342">km</text><text class="tx" transform="translate(-41,150) rotate(-90)">km</text></g>
<g transform="translate(3690,1194)"><use href="#z4" width="300" height="300"/><rect class="fr" width="300" height="300"/><use href="#tk"/><text class="tl" x="150" y="-7">SHAP Value=-0.05925</text><text class="ty" x="-8" y="5">276</text><text class="ty" x="-8" y="80">138</text><text class="ty" x="-8" y="155">0</text><text class="ty" x="-8" y="230">138</text><text class="ty" x="-8" y="305">276</text><text class="tx" x="0" y="322">276</text><text class="tx" x="75" y="322">138</text><text class="tx" x="150" y="322">0</text><text class="tx" x="225" y="322">138</text><text class="tx" x="300" y="322">276</text><text class="tx" x="150" y="342">km</text><text class="tx" transform="translate(-41,150) rotate(-90)">km</text></g>

<g transform="translate(2565,1569)"><use href="#ir2" width="300" height="300"/><rect class="fr" width="300" height="300"/><use href="#tk"/><text class="tl" x="150" y="-7">20250919 at 05UTC</text><text class="ty" x="-8" y="5">276</text><text class="ty" x="-8" y="80">138</text><text class="ty" x="-8" y="155">0</text><text class="ty" x="-8" y="230">138</text><text class="ty" x="-8" y="305">276</text><text class="tx" x="0" y="322">276</text><text class="tx" x="75" y="322">138</text><text class="tx" x="150" y="322">0</text><text class="tx" x="225" y="322">138</text><text class="tx" x="300" y="322">276</text><text class="tx" x="150" y="342">km</text><text class="tx" transform="translate(-41,150) rotate(-90)">km</text></g>
<g transform="translate(2940,1569)"><use href="#ir2" width="300" height="300"/><rect class="fr" width="300" height="300"/><use href="#tk"/><text class="tl" x="150" y="-7">20250919 at 06UTC</text><text class="ty" x="-8" y="5">276</text><text class="ty" x="-8" y="80">138</text><text class="ty" x="-8" y="155">0</text><text class="ty" x="-8" y="230">138</text><text class="ty" x="-8" y="305">276</text><text class="tx" x="0" y="322">276</text><text class="tx" x="75" y="322">138</text><text class="tx" x="150" y="322">0</text><text class="tx" x="225" y="322">138</text><text class="tx" x="300" y="322">276</text><text class="tx" x="150" y="342">km</text><text class="tx" transform="translate(-41,150) rotate(-90)">km</text></g>
<g transform="translate(3315,1569)"><use href="#ndf" width="300" height="300"/><rect class="fr" width="300" height="300"/><use href="#tk"/><text class="tl" x="150" y="-7">Normalized Data</text><text class="ty" x="-8" y="5">276</text><text class="ty" x="-8" y="80">138</text><text class="ty" x="-8" y="155">0</text><text class="ty" x="-8" y="230">138</text><text class="ty" x="-8" y="305">276</text><text class="tx" x="0" y="322">276</text><text class="tx" x="75" y="322">138</text><text class="tx" x="150" y="322">0</text><text class="tx" x="225" y="322">138</text><text class="tx" x="300" y="322">276</text><text class="tx" x="150" y="342">km</text><text class="tx" transform="translate(-41,150) rotate(-90)">km</text></g>
<g transform="translate(3690,1569)"><use href="#z1" width="300" height="300"/><rect class="fr" width="300" height="300"/><use href="#tk"/><text class="tl" x="150" y="-7">SHAP Value=-0.00188</text><text class="ty" x="-8" y="5">276</text><text class="ty" x="-8" y="80">138</text><text class="ty" x="-8" y="155">0</text><text class="ty" x="-8" y="230">138</text><text class="ty" x="-8" y="305">276</text><text class="tx" x="0" y="322">276</text><text class="tx" x="75" y="322">138</text><text class="tx" x="150" y="322">0</text><text class="tx" x="225" y="322">138</text><text class="tx" x="300" y="322">276</text><text class="tx" x="150" y="342">km</text><text class="tx" transform="translate(-41,150) rotate(-90)">km</text></g>

<!-- right colorbars -->
<text x="2903" y="1937" font-size="15" text-anchor="middle">Brightness Temperature [K]</text>
<rect x="2565" y="1944" width="676" height="25" fill="url(#bt)" stroke="#000" stroke-width="1.2"/>
<path class="tk" d="M2565,1969v5M2669,1969v5M2773,1969v5M2877,1969v5M2981,1969v5M3085,1969v5M3189,1969v5"/>
<text class="tx" x="2565" y="1991">180</text><text class="tx" x="2669" y="1991">200</text><text class="tx" x="2773" y="1991">220</text><text class="tx" x="2877" y="1991">240</text><text class="tx" x="2981" y="1991">260</text><text class="tx" x="3085" y="1991">280</text><text class="tx" x="3189" y="1991">300</text>
<text x="3465" y="1937" font-size="15" text-anchor="middle">Normalized Brightness Temperature [K]</text>
<rect x="3316" y="1944" width="299" height="25" fill="url(#sw)" stroke="#000" stroke-width="1.2"/>
<path class="tk" d="M3322,1969v5M3370,1969v5M3417,1969v5M3465,1969v5M3513,1969v5M3560,1969v5M3608,1969v5"/>
<text class="tx" x="3322" y="1991">−6</text><text class="tx" x="3370" y="1991">−4</text><text class="tx" x="3417" y="1991">−2</text><text class="tx" x="3465" y="1991">0</text><text class="tx" x="3513" y="1991">2</text><text class="tx" x="3560" y="1991">4</text><text class="tx" x="3608" y="1991">6</text>
<text x="3840" y="1937" font-size="15" text-anchor="middle">SHAP Values</text>
<rect x="3690" y="1944" width="300" height="25" fill="url(#sw)" stroke="#000" stroke-width="1.2"/>
<path class="tk" d="M3721,1969v5M3780,1969v5M3840,1969v5M3899,1969v5M3959,1969v5"/>
<text class="tx" x="3721" y="1991" font-size="13">−0.0010</text><text class="tx" x="3780" y="1991" font-size="13">−0.0005</text><text class="tx" x="3840" y="1991" font-size="13">0.0000</text><text class="tx" x="3899" y="1991" font-size="13">0.0005</text><text class="tx" x="3959" y="1991" font-size="13">0.0010</text>
</svg>
</body></html>
